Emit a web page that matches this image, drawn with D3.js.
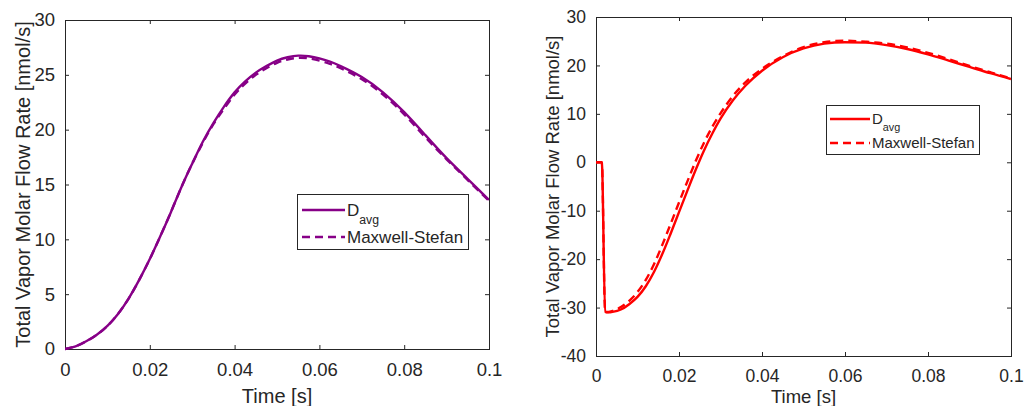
<!DOCTYPE html>
<html>
<head>
<meta charset="utf-8">
<script src="https://cdn.jsdelivr.net/npm/d3@7"></script>
<style>
  html, body { margin: 0; padding: 0; background: #fff; }
  svg { display: block; font-family: "Liberation Sans", Arial, sans-serif; }
</style>
</head>
<body>
<svg id="chart" width="1024" height="406"></svg>
<script>
// ---------- data ----------
const leftTime = [0, 0.0025, 0.005, 0.0075, 0.01, 0.0125, 0.015, 0.0175, 0.02, 0.0225, 0.025, 0.0275, 0.03, 0.0325, 0.035, 0.0375, 0.04, 0.0425, 0.045, 0.0475, 0.05, 0.0525, 0.055, 0.0575, 0.06, 0.0625, 0.065, 0.07, 0.075, 0.08, 0.085, 0.09, 0.095, 0.1];
const leftDavg = [0, 0.25, 0.7, 1.3, 2.1, 3.2, 4.6, 6.3, 8.2, 10.3, 12.5, 14.8, 16.9, 18.9, 20.6, 22.1, 23.4, 24.4, 25.2, 25.8, 26.3, 26.6, 26.75, 26.7, 26.5, 26.2, 25.8, 24.8, 23.4, 21.6, 19.5, 17.4, 15.5, 13.6];
const leftMS   = [0, 0.25, 0.7, 1.3, 2.1, 3.2, 4.6, 6.3, 8.2, 10.3, 12.5, 14.8, 16.9, 18.8, 20.5, 21.9, 23.2, 24.2, 25.0, 25.6, 26.1, 26.4, 26.55, 26.5, 26.3, 26.0, 25.6, 24.6, 23.2, 21.4, 19.3, 17.3, 15.4, 13.5];

const rightTime = [0, 0.0014, 0.0022, 0.003, 0.004, 0.006, 0.008, 0.010, 0.012, 0.014, 0.016, 0.018, 0.020, 0.022, 0.024, 0.026, 0.028, 0.030, 0.033, 0.036, 0.040, 0.045, 0.050, 0.055, 0.060, 0.065, 0.070, 0.075, 0.080, 0.085, 0.090, 0.095, 0.100];
const rightDavg = [0, 0, -30.9, -31.0, -30.9, -30.4, -29.3, -27.8, -25.6, -22.6, -18.9, -14.7, -10.3, -5.9, -1.6, 2.4, 5.9, 9.0, 12.8, 15.8, 18.9, 21.7, 23.5, 24.5, 24.8, 24.7, 24.2, 23.4, 22.3, 21.0, 19.7, 18.4, 17.2];
const rightMS   = [0, 0, -30.9, -30.9, -30.7, -29.9, -28.6, -26.8, -24.3, -21.0, -17.0, -12.7, -8.3, -4.0, 0.2, 4.0, 7.3, 10.1, 13.7, 16.5, 19.3, 21.9, 23.8, 24.8, 25.1, 24.9, 24.5, 23.7, 22.6, 21.3, 19.9, 18.6, 17.3];

const xTicks = [0, 0.02, 0.04, 0.06, 0.08, 0.1];
const xTickLabels = ["0", "0.02", "0.04", "0.06", "0.08", "0.1"];
const leftYTicks = [0, 5, 10, 15, 20, 25, 30];
const rightYTicks = [-40, -30, -20, -10, 0, 10, 20, 30];

const seriesNames = ["D", "Maxwell-Stefan"];
const xLabel = "Time [s]";
const yLabel = "Total Vapor Molar Flow Rate [nmol/s]";

// ---------- drawing ----------
const svg = d3.select("#chart");
const axisColor = "#262626";
const textColor = "#262626";

function panel(cfg) {
  const g = svg.append("g");
  const x = d3.scaleLinear().domain([0, 0.1]).range([cfg.x0, cfg.x1]);
  const y = d3.scaleLinear().domain(cfg.yDomain).range([cfg.y1, cfg.y0]);
  const tl = 4;

  g.append("rect").attr("x", cfg.x0).attr("y", cfg.y0)
    .attr("width", cfg.x1 - cfg.x0).attr("height", cfg.y1 - cfg.y0)
    .attr("fill", "none").attr("stroke", axisColor).attr("stroke-width", 1).attr("shape-rendering", "crispEdges");

  const xb = g.append("g").attr("transform", `translate(0,${cfg.y1})`)
    .call(d3.axisBottom(x).tickValues(xTicks).tickSize(-tl).tickPadding(10 + tl)
      .tickFormat((d, i) => xTickLabels[i]));
  const xt = g.append("g").attr("transform", `translate(0,${cfg.y0})`)
    .call(d3.axisTop(x).tickValues(xTicks).tickSize(-tl).tickFormat(""));
  const yl = g.append("g").attr("transform", `translate(${cfg.x0},0)`)
    .call(d3.axisLeft(y).tickValues(cfg.yTicks).tickSize(-tl).tickPadding(6 + tl).tickFormat(d3.format("d")));
  const yr = g.append("g").attr("transform", `translate(${cfg.x1},0)`)
    .call(d3.axisRight(y).tickValues(cfg.yTicks).tickSize(-tl).tickFormat(""));
  [xb, xt, yl, yr].forEach(a => {
    a.select(".domain").remove();
    a.selectAll("line").attr("stroke", axisColor);
    a.selectAll("text").attr("fill", textColor).attr("font-size", cfg.tickFont)
      .attr("font-family", "'Liberation Sans', Arial, sans-serif");
  });
  xb.selectAll("text").attr("dy", "0.71em");
  yl.selectAll("text").text(d => d < 0 ? "-" + Math.abs(d) : d);

  const clipId = "clip" + cfg.id;
  svg.append("clipPath").attr("id", clipId).append("rect")
    .attr("x", cfg.x0).attr("y", cfg.y0 - 2).attr("width", cfg.x1 - cfg.x0).attr("height", cfg.y1 - cfg.y0 + 4);
  const line = d3.line().x(d => x(d[0])).y(d => y(d[1])).curve(cfg.curve);
  const solid = cfg.time.map((t, i) => [t, cfg.s1[i]]);
  const dashed = cfg.time.map((t, i) => [t, cfg.s2[i]]);
  g.append("path").attr("clip-path", `url(#${clipId})`).attr("d", line(dashed))
    .attr("fill", "none").attr("stroke", cfg.color).attr("stroke-width", 2.4)
    .attr("stroke-dasharray", "8,5");
  g.append("path").attr("clip-path", `url(#${clipId})`).attr("d", line(solid))
    .attr("fill", "none").attr("stroke", cfg.color).attr("stroke-width", 2.4);

  g.append("text").attr("x", (cfg.x0 + cfg.x1) / 2).attr("y", cfg.xLabelY)
    .attr("text-anchor", "middle").attr("font-size", cfg.labelFont).attr("fill", textColor).text(xLabel);
  g.append("text").attr("transform", `translate(${cfg.yLabelX},${(cfg.y0 + cfg.y1) / 2}) rotate(-90)`)
    .attr("text-anchor", "middle").attr("dy", "0.35em").attr("font-size", cfg.labelFont).attr("fill", textColor).text(yLabel);

  const L = cfg.legend;
  g.append("rect").attr("x", L.x).attr("y", L.y).attr("width", L.w).attr("height", L.h)
    .attr("fill", "#fff").attr("stroke", axisColor).attr("stroke-width", 1).attr("shape-rendering", "crispEdges");
  [L.r1, L.r2].forEach((ry, i) => {
    g.append("line").attr("x1", L.lx0).attr("x2", L.lx1).attr("y1", ry).attr("y2", ry)
      .attr("stroke", cfg.color).attr("stroke-width", 2.4)
      .attr("stroke-dasharray", i === 1 ? "8,5" : null);
  });
  const t1 = g.append("text").attr("x", L.lx1 + 2).attr("y", L.r1).attr("dy", "0.35em")
    .attr("font-size", L.font).attr("fill", textColor);
  t1.append("tspan").text(seriesNames[0]);
  t1.append("tspan").attr("font-size", L.font * 0.72).attr("dy", L.font * 0.45).text("avg");
  g.append("text").attr("x", L.lx1 + 2).attr("y", L.r2).attr("dy", "0.35em")
    .attr("font-size", L.font).attr("fill", textColor).text(seriesNames[1]);
}

panel({
  id: "L", x0: 65, x1: 489, y0: 20, y1: 349, yDomain: [0, 30], yTicks: leftYTicks,
  time: leftTime, s1: leftDavg, s2: leftMS, color: "#870087", curve: d3.curveNatural,
  tickFont: 18.5, labelFont: 20, xLabelY: 403, yLabelX: 23,
  legend: { x: 297, y: 194, w: 171, h: 55, r1: 210, r2: 237, lx0: 302, lx1: 345, font: 17 }
});

panel({
  id: "R", x0: 596, x1: 1011, y0: 17, y1: 356, yDomain: [-40, 30], yTicks: rightYTicks,
  time: rightTime, s1: rightDavg, s2: rightMS, color: "#ff0000", curve: d3.curveMonotoneX,
  tickFont: 17.5, labelFont: 18.5, xLabelY: 403, yLabelX: 553,
  legend: { x: 826, y: 105, w: 153, h: 49, r1: 119, r2: 143, lx0: 830, lx1: 870, font: 15 }
});
</script>
</body>
</html>
